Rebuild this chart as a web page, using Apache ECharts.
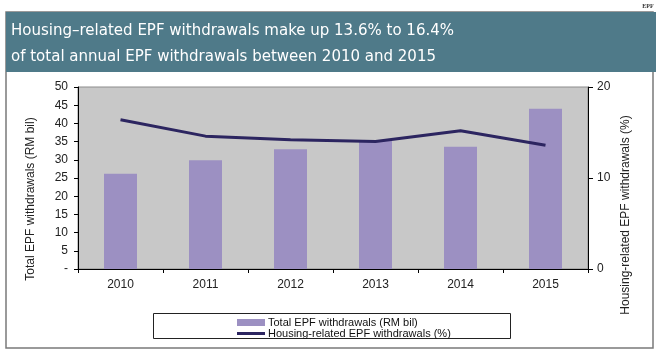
<!DOCTYPE html>
<html><head><meta charset="utf-8">
<script src="https://cdn.jsdelivr.net/npm/echarts@6/dist/echarts.min.js"></script>
<style>html,body{margin:0;padding:0;background:#fff}#c{width:660px;height:356px}</style>
</head><body><div id="c"></div>
<script>
const categories = ['2010','2011','2012','2013','2014','2015'];
const totalWithdrawals = [26.2, 29.9, 32.9, 35.3, 33.6, 44.0];
const housingShare = [16.4, 14.6, 14.2, 14.0, 15.2, 13.6];
const titleLines = ['Housing\u2013related EPF withdrawals make up 13.6% to 16.4%', 'of total annual EPF withdrawals between 2010 and 2015'];
const seriesNames = ['Total EPF withdrawals (RM bil)', 'Housing-related EPF withdrawals (%)'];
const leftAxisName = 'Total EPF withdrawals (RM bil)';
const rightAxisName = 'Housing-related EPF withdrawals (%)';

// pick a narrow font for the banner title if available
const ctx = document.createElement('canvas').getContext('2d');
function avail(f){ const s='Housing related withdrawals 2015'; ctx.font='20px monospace'; const a=ctx.measureText(s).width; ctx.font='20px "'+f+'", monospace'; return Math.abs(ctx.measureText(s).width-a)>0.5; }
const cands = ['Liberation Sans Narrow','DejaVu Sans Condensed','Roboto Condensed','Open Sans Condensed','Lato'];
let titleFont = 'Roboto';
for (const f of cands){ if (avail(f)) { titleFont = f; break; } }
ctx.font = '22px "'+titleFont+'"';
const w22 = ctx.measureText(titleLines[0]).width;
const titleSize = Math.min(22, Math.floor(22*445/w22*10)/10);

const axisFont = 'Liberation Sans, Arial, sans-serif';
const chart = echarts.init(document.getElementById('c'), null, {renderer:'canvas'});
chart.setOption({
  animation:false,
  backgroundColor:'#ffffff',
  grid:{left:78,right:72,top:87,bottom:87,show:true,backgroundColor:'#c8c8c8',borderColor:'#8c8c8c',borderWidth:1},
  xAxis:{type:'category',data:categories,
    axisLine:{lineStyle:{color:'#000',width:1}},
    axisTick:{show:true,length:4,lineStyle:{color:'#000'}},
    axisLabel:{color:'#222',fontSize:12,fontFamily:axisFont,margin:10}},
  yAxis:[
    {type:'value',min:0,max:50,interval:5,position:'left',
     axisLine:{show:true,lineStyle:{color:'#000'}},
     axisTick:{show:true,length:4,lineStyle:{color:'#000'}},
     splitLine:{show:false},
     axisLabel:{color:'#222',fontSize:12,fontFamily:axisFont,margin:10,formatter:v=>v===0?'-':String(v)}},
    {type:'value',min:0,max:20,interval:10,position:'right',
     axisLine:{show:true,lineStyle:{color:'#000'}},
     axisTick:{show:true,length:5,lineStyle:{color:'#000'}},
     splitLine:{show:false},
     axisLabel:{color:'#222',fontSize:12,fontFamily:axisFont,margin:9}}
  ],
  legend:{orient:'vertical',left:232,top:312,itemGap:0,itemWidth:28,itemHeight:7,
    textStyle:{color:'#111',fontSize:11,fontFamily:axisFont,padding:[0,0,0,-2]},
    data:[{name:seriesNames[0],icon:'rect'},
          {name:seriesNames[1],icon:'path://M0,0L0,0ZM0,2L28,2L28,5L0,5ZM28,7L28,7Z',itemStyle:{color:'#2c2560'}}]},
  series:[
    {name:seriesNames[0],type:'bar',data:totalWithdrawals,barWidth:33,itemStyle:{color:'#9c90c2'},yAxisIndex:0},
    {name:seriesNames[1],type:'line',data:housingShare,yAxisIndex:1,symbol:'none',
     lineStyle:{color:'#2c2560',width:3},itemStyle:{color:'#2c2560'},z:5}
  ],
  graphic:[
    {type:'rect',shape:{x:6,y:12,width:647,height:336},style:{fill:'none',stroke:'#7a7a7a',lineWidth:1.5},silent:true,z:-1},
    {type:'rect',shape:{x:6,y:12,width:650,height:60},style:{fill:'#4f7a89'},silent:true},
    {type:'text',x:11,y:31,style:{text:titleLines[0],fill:'#ffffff',font:'normal '+titleSize+'px "'+titleFont+'"',verticalAlign:'middle'}},
    {type:'text',x:11,y:57,style:{text:titleLines[1],fill:'#ffffff',font:'normal '+titleSize+'px "'+titleFont+'"',verticalAlign:'middle'}},
    {type:'text',x:648,y:6,style:{text:'EPF',fill:'#333',font:'bold 6px "Liberation Serif", serif',align:'center',verticalAlign:'middle'}},
    {type:'text',x:31,y:199,rotation:Math.PI/2,style:{text:leftAxisName,fill:'#222',font:'12px '+axisFont,align:'center',verticalAlign:'middle'}},
    {type:'text',x:626,y:215,rotation:Math.PI/2,style:{text:rightAxisName,fill:'#222',font:'12px '+axisFont,align:'center',verticalAlign:'middle'}},
    {type:'rect',shape:{x:153.5,y:313.5,width:357,height:25},style:{fill:'none',stroke:'#222',lineWidth:1},silent:true}
  ]
});
</script></body></html>
